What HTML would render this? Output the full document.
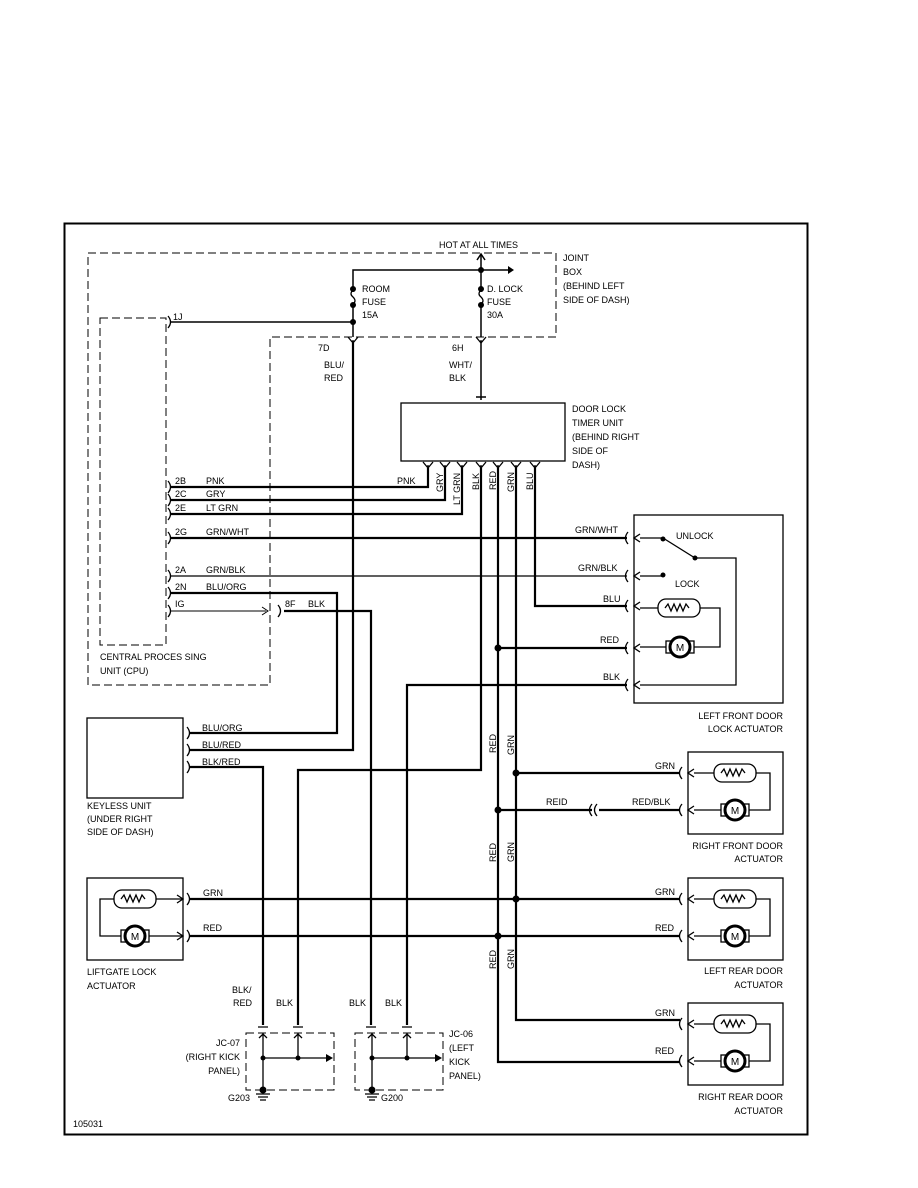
<!DOCTYPE html>
<html><head><meta charset="utf-8"><style>
html,body{margin:0;padding:0;background:#fff}
svg{display:block}
text{font-family:"Liberation Sans",sans-serif;font-size:9px;fill:#000}
</style></head><body>
<svg width="918" height="1188" viewBox="0 0 918 1188" xmlns="http://www.w3.org/2000/svg">
<defs>
<g id="res"><rect x="-21" y="-9" width="42" height="18" rx="8" fill="#fff" stroke="#000" stroke-width="1.3"/><path d="M-14,0 l3,-4 l3,7 l3,-7 l3,7 l3,-7 l3,7 l3,-7 l3,4" fill="none" stroke="#000" stroke-width="1.3"/></g>
<g id="mot"><rect x="-14" y="-6" width="28" height="12" fill="#fff" stroke="#000" stroke-width="1.3"/><circle r="10" fill="#fff" stroke="#000" stroke-width="3"/><text x="0" y="4" text-anchor="middle" style="font-size:10px">M</text></g>
<path id="cin" d="M-3,-6 q-5,6 0,12 M9,-4 L3,0 L9,4" fill="none" stroke="#000" stroke-width="1.3"/>
<path id="cout" d="M0,-6 q5,6 0,12" fill="none" stroke="#000" stroke-width="1.3"/>
<path id="ydn" d="M-5,-3 L0,3 L5,-3 M0,3 V0" fill="none" stroke="#000" stroke-width="1.3"/>
</defs>
<rect x="64.5" y="223.5" width="743" height="911" fill="none" stroke="#000" stroke-width="2"/>

<g fill="none" stroke="#000" stroke-width="1" stroke-dasharray="8,4">
<path d="M88,253 H556 V337 H270 V685 H88 Z"/>
<rect x="100" y="318" width="66" height="327"/>
<rect x="246" y="1033" width="88" height="57"/>
<rect x="355" y="1033" width="88" height="57"/>
</g>

<g fill="none" stroke="#000" stroke-width="1.5">
<path d="M353,337 V270 H508"/>
<path d="M481,337 V255"/>
<path d="M477,260 L481,254 L485,260"/>
<path d="M170,322 H353"/>
</g>
<path d="M508,266 L514,270 L508,274Z"/>
<g fill="#fff" stroke="#fff" stroke-width="4"><path d="M353,292 V303 M481,292 V303"/></g>
<path d="M353,290 q-4,4 0,7 q4,4 0,7 M481,290 q-4,4 0,7 q4,4 0,7" fill="none" stroke="#000" stroke-width="1.3"/>
<g><circle cx="481" cy="270" r="3"/><circle cx="353" cy="289" r="3"/><circle cx="353" cy="305" r="3"/><circle cx="353" cy="322" r="3"/><circle cx="481" cy="289" r="3"/><circle cx="481" cy="305" r="3"/></g>
<use href="#ydn" x="353" y="340"/><use href="#ydn" x="481" y="340"/>
<text x="439" y="248">HOT AT ALL TIMES</text>
<text x="563" y="261">JOINT</text><text x="563" y="275">BOX</text><text x="563" y="289">(BEHIND LEFT</text><text x="563" y="303">SIDE OF DASH)</text>
<text x="362" y="292">ROOM</text><text x="362" y="305">FUSE</text><text x="362" y="318">15A</text>
<text x="487" y="292">D. LOCK</text><text x="487" y="305">FUSE</text><text x="487" y="318">30A</text>
<text x="173" y="320">1J</text>
<text x="318" y="351">7D</text><text x="324" y="368">BLU/</text><text x="324" y="381">RED</text>
<text x="452" y="351">6H</text><text x="449" y="368">WHT/</text><text x="449" y="381">BLK</text>

<rect x="401" y="403" width="164" height="58" fill="none" stroke="#000" stroke-width="1.3"/>
<path d="M481,343 V400 M476,397 H486" fill="none" stroke="#000" stroke-width="1.5"/>
<text x="572" y="412">DOOR LOCK</text><text x="572" y="426">TIMER UNIT</text><text x="572" y="440">(BEHIND RIGHT</text><text x="572" y="454">SIDE OF</text><text x="572" y="468">DASH)</text>
<use href="#ydn" x="428" y="465"/><use href="#ydn" x="445" y="465"/><use href="#ydn" x="462" y="465"/><use href="#ydn" x="481" y="465"/><use href="#ydn" x="498" y="465"/><use href="#ydn" x="516" y="465"/><use href="#ydn" x="535" y="465"/>
<g style="font-size:8px">
<text transform="translate(443,492) rotate(-90)">GRY</text>
<text transform="translate(460,505) rotate(-90)">LT GRN</text>
<text transform="translate(479,490) rotate(-90)">BLK</text>
<text transform="translate(496,490) rotate(-90)">RED</text>
<text transform="translate(514,492) rotate(-90)">GRN</text>
<text transform="translate(533,490) rotate(-90)">BLU</text>
</g>

<g fill="none" stroke="#000" stroke-width="2.2">
<path d="M353,343 V750 H190"/>
<path d="M170,487 H428 V468"/>
<path d="M170,500 H445 V468"/>
<path d="M170,514 H462 V468"/>
<path d="M170,538 H627"/>
<path d="M170,576 H627" stroke-width="1.3"/>
<path d="M170,593 H337 V733 H190"/>
<path d="M284,611 H371 V1025"/>
<path d="M481,468 V770 H298 V1025"/>
<path d="M498,468 V1062 H680"/>
<path d="M516,468 V1020 H680"/>
<path d="M535,468 V606 H627"/>
<path d="M498,648 H627"/>
<path d="M407,1025 V685 H627"/>
<path d="M190,767 H263 V1025"/>
<path d="M516,773 H680"/>
<path d="M498,810 H592 M599,810 H680"/>
<path d="M190,899 H680"/>
<path d="M190,936 H680"/>
</g>
<path d="M170,611 H266" fill="none" stroke="#000" stroke-width="1"/>
<path d="M262,607 L268,611 L262,615" fill="none" stroke="#000" stroke-width="1"/>
<path d="M592,804 q-5,6 0,12 M597,804 q-5,6 0,12" fill="none" stroke="#000" stroke-width="1.3"/>
<g><circle cx="498" cy="648" r="3.5"/><circle cx="498" cy="810" r="3.5"/><circle cx="498" cy="936" r="3.5"/><circle cx="516" cy="773" r="3.5"/><circle cx="516" cy="899" r="3.5"/></g>

<use href="#cout" x="168" y="487"/><use href="#cout" x="168" y="500"/><use href="#cout" x="168" y="514"/><use href="#cout" x="168" y="538"/><use href="#cout" x="168" y="576"/><use href="#cout" x="168" y="593"/><use href="#cout" x="168" y="611"/><use href="#cout" x="168" y="322"/>
<use href="#cout" x="278" y="611"/>
<text x="175" y="484">2B</text><text x="206" y="484">PNK</text>
<text x="175" y="497">2C</text><text x="206" y="497">GRY</text>
<text x="175" y="511">2E</text><text x="206" y="511">LT GRN</text>
<text x="175" y="535">2G</text><text x="206" y="535">GRN/WHT</text>
<text x="175" y="573">2A</text><text x="206" y="573">GRN/BLK</text>
<text x="175" y="590">2N</text><text x="206" y="590">BLU/ORG</text>
<text x="175" y="607">IG</text>
<text x="285" y="607">8F</text><text x="308" y="607">BLK</text>
<text x="397" y="484">PNK</text>
<text x="100" y="660">CENTRAL PROCES SING</text><text x="100" y="674">UNIT (CPU)</text>

<rect x="634" y="515" width="149" height="188" fill="none" stroke="#000" stroke-width="1.3"/>
<use href="#cin" x="631" y="538"/><use href="#cin" x="631" y="576"/><use href="#cin" x="631" y="606"/><use href="#cin" x="631" y="648"/><use href="#cin" x="631" y="685"/>
<g fill="none" stroke="#000" stroke-width="1.3">
<path d="M640,538 H663 L695,558 H736 V685 H640"/>
<path d="M640,576 H663"/>
<path d="M640,608 H720 V647 H640"/>
</g>
<circle cx="663" cy="539" r="2.5"/><circle cx="695" cy="558" r="2.5"/><circle cx="663" cy="575" r="2.5"/>
<use href="#res" x="679" y="608"/><use href="#mot" x="680" y="647"/>
<text x="676" y="539">UNLOCK</text><text x="675" y="587">LOCK</text>
<text x="575" y="533">GRN/WHT</text><text x="578" y="571">GRN/BLK</text><text x="603" y="602">BLU</text><text x="600" y="643">RED</text><text x="603" y="680">BLK</text>
<text x="783" y="719" text-anchor="end">LEFT FRONT DOOR</text><text x="783" y="732" text-anchor="end">LOCK ACTUATOR</text>

<g id="act">
<rect x="688" y="752" width="95" height="82" fill="none" stroke="#000" stroke-width="1.3"/>
<use href="#cin" x="685" y="773"/><use href="#cin" x="685" y="810"/>
<path d="M694,773 H770 V810 H694" fill="none" stroke="#000" stroke-width="1.3"/>
<use href="#res" x="735" y="773"/><use href="#mot" x="735" y="810"/>
</g>
<use href="#act" y="126"/><use href="#act" y="251"/>
<text x="655" y="769">GRN</text><text x="632" y="805">RED/BLK</text><text x="546" y="805">REID</text>
<text x="783" y="849" text-anchor="end">RIGHT FRONT DOOR</text><text x="783" y="862" text-anchor="end">ACTUATOR</text>
<text x="655" y="895">GRN</text><text x="655" y="931">RED</text>
<text x="783" y="974" text-anchor="end">LEFT REAR DOOR</text><text x="783" y="988" text-anchor="end">ACTUATOR</text>
<text x="655" y="1016">GRN</text><text x="655" y="1054">RED</text>
<text x="783" y="1100" text-anchor="end">RIGHT REAR DOOR</text><text x="783" y="1114" text-anchor="end">ACTUATOR</text>
<g style="font-size:8px">
<text transform="translate(496,753) rotate(-90)">RED</text><text transform="translate(514,755) rotate(-90)">GRN</text>
<text transform="translate(496,862) rotate(-90)">RED</text><text transform="translate(514,862) rotate(-90)">GRN</text>
<text transform="translate(496,969) rotate(-90)">RED</text><text transform="translate(514,969) rotate(-90)">GRN</text>
</g>

<rect x="87" y="718" width="96" height="80" fill="none" stroke="#000" stroke-width="1.3"/>
<use href="#cout" x="187" y="733"/><use href="#cout" x="187" y="750"/><use href="#cout" x="187" y="767"/>
<text x="202" y="731">BLU/ORG</text><text x="202" y="748">BLU/RED</text><text x="202" y="765">BLK/RED</text>
<text x="87" y="809">KEYLESS UNIT</text><text x="87" y="822">(UNDER RIGHT</text><text x="87" y="835">SIDE OF DASH)</text>

<rect x="87" y="878" width="96" height="82" fill="none" stroke="#000" stroke-width="1.3"/>
<path d="M183,899 H100 V936 H183 M177,895 L183,899 L177,903 M177,932 L183,936 L177,940" fill="none" stroke="#000" stroke-width="1.3"/>
<use href="#res" x="135" y="899"/><use href="#mot" x="135" y="936"/>
<use href="#cout" x="187" y="899"/><use href="#cout" x="187" y="936"/>
<text x="203" y="896">GRN</text><text x="203" y="931">RED</text>
<text x="87" y="975">LIFTGATE LOCK</text><text x="87" y="989">ACTUATOR</text>

<g fill="none" stroke="#000" stroke-width="1.3">
<path d="M258,1027 H268 M293,1027 H303 M366,1027 H376 M402,1027 H412"/>
<path d="M263,1033 V1090 M298,1033 V1058 M263,1058 H326 M372,1033 V1090 M407,1033 V1058 M372,1058 H435"/>
<path d="M259,1038 L263,1034 L267,1038 M294,1038 L298,1034 L302,1038 M368,1038 L372,1034 L376,1038 M403,1038 L407,1034 L411,1038"/>
<path d="M256,1094 H270 M258,1097 H268 M260,1100 H266 M365,1094 H379 M367,1097 H377 M369,1100 H375"/>
</g>
<path d="M326,1054 L333,1058 L326,1062Z"/><path d="M435,1054 L442,1058 L435,1062Z"/>
<circle cx="263" cy="1058" r="2.5"/><circle cx="298" cy="1058" r="2.5"/><circle cx="372" cy="1058" r="2.5"/><circle cx="407" cy="1058" r="2.5"/>
<circle cx="263" cy="1090" r="3.5"/><circle cx="372" cy="1090" r="3.5"/>
<text x="232" y="993">BLK/</text><text x="233" y="1006">RED</text><text x="276" y="1006">BLK</text>
<text x="349" y="1006">BLK</text><text x="385" y="1006">BLK</text>
<text x="240" y="1046" text-anchor="end">JC-07</text><text x="240" y="1060" text-anchor="end">(RIGHT KICK</text><text x="240" y="1074" text-anchor="end">PANEL)</text>
<text x="449" y="1037">JC-06</text><text x="449" y="1051">(LEFT</text><text x="449" y="1065">KICK</text><text x="449" y="1079">PANEL)</text>
<text x="228" y="1101">G203</text><text x="381" y="1101">G200</text>
<text x="73" y="1127">105031</text>
</svg>
</body></html>
